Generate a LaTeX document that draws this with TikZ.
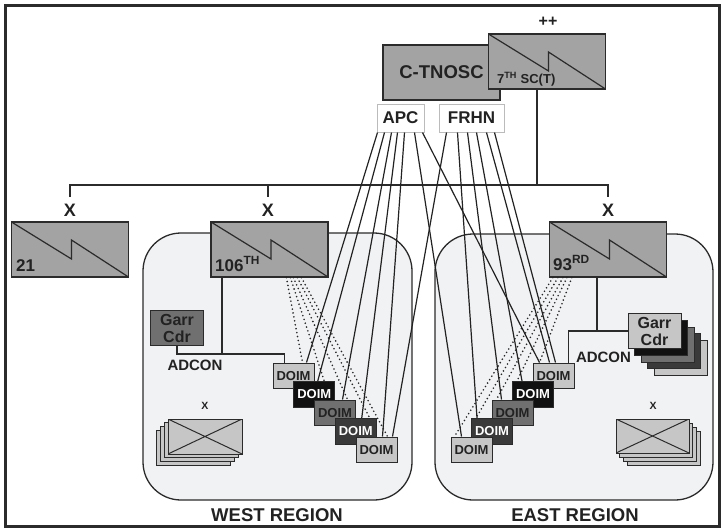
\documentclass[tikz,border=0pt]{standalone}
\usepackage{fontspec}
\setmainfont{Liberation Sans}
\usetikzlibrary{calc}

\definecolor{boxgray}{HTML}{A3A3A3}
\definecolor{regionfill}{HTML}{F1F2F4}
\definecolor{linedk}{HTML}{2B2B2B}
\definecolor{textdk}{HTML}{222222}
\definecolor{tagline}{HTML}{BBBBBB}
\definecolor{doimlt}{HTML}{C6C6C6}
\definecolor{doimbk}{HTML}{111111}
\definecolor{doimmd}{HTML}{707070}
\definecolor{doimdk}{HTML}{3A3A3A}

\def\boxline{1.2pt}
\def\boldsize#1#2{\fontsize{#1}{#2}\selectfont\bfseries}
\tikzstyle{unit}=[draw=linedk, fill=boxgray, line width=\boxline, minimum width=117pt, minimum height=55pt, inner sep=0pt,
  path picture={\draw[linedk, line width=\boxline] (path picture bounding box.north west)
    -- ([shift={(60pt,-37pt)}]path picture bounding box.north west)
    -- ([shift={(60pt,-18pt)}]path picture bounding box.north west)
    -- (path picture bounding box.south east);}]
\tikzstyle{hq}=[draw=linedk, fill=boxgray, line width=\boxline, minimum width=117pt, minimum height=55pt, inner sep=0pt, text=textdk, font=\boldsize{18.5}{20}]
\tikzstyle{tagbox}=[draw=tagline, fill=white, line width=1pt, minimum height=28pt, inner sep=0pt, text=textdk, font=\boldsize{17}{19}]
\tikzstyle{region}=[draw=linedk, fill=regionfill, line width=1.3pt, rounded corners=38pt]
\tikzstyle{doim}=[draw=linedk, line width=1pt, minimum width=41pt, minimum height=25.5pt, inner sep=0pt, font=\boldsize{13}{14}]
\tikzstyle{garr}=[draw=linedk, line width=1pt, minimum width=53pt, minimum height=35pt, inner sep=0pt, align=center, text=textdk, font=\boldsize{16}{17}]
\tikzstyle{xcard}=[draw=linedk, fill=doimlt, line width=1pt, minimum width=74pt, minimum height=35pt, inner sep=0pt]
\tikzstyle{crossed}=[path picture={\draw[linedk, line width=1pt] (path picture bounding box.north west) -- (path picture bounding box.south east)
    (path picture bounding box.north east) -- (path picture bounding box.south west);}]
\tikzstyle{bus}=[draw=linedk, line width=2.5pt]
\tikzstyle{wire}=[draw=linedk, line width=1.2pt]
\tikzstyle{tasking}=[draw=textdk, line width=1.2pt]
\tikzstyle{dotwire}=[draw=black!85, line width=1.8pt, line cap=round, dash pattern=on 0pt off 4pt]
\tikzstyle{unittext}=[text=textdk, inner sep=0pt, font=\boldsize{17}{19}]
\tikzstyle{busx}=[text=textdk, inner sep=0pt, font=\boldsize{18}{20}]
\tikzstyle{adcon}=[text=textdk, inner sep=0pt, font=\boldsize{15}{17}]
\tikzstyle{regiontext}=[text=textdk, inner sep=0pt, font=\boldsize{18.5}{20}]
\tikzstyle{smallx}=[text=textdk, inner sep=0pt, font=\boldsize{10.5}{12}]

\begin{document}
\begin{tikzpicture}[x=1pt, y=-1pt] % y runs downwards
  \useasboundingbox (0,0) rectangle (721,528);
  % frame
  \draw [line width=2.5pt, draw=linedk] (5.5,5.5) rectangle (719.5,526.5);

  % regions
  \node [region, minimum width=269pt, minimum height=267pt] (westreg) at (277.5,366.5) {};
  \node [region, minimum width=278pt, minimum height=266pt] (eastreg) at (574,367) {};
  \node [regiontext] (westlbl) at (277,515) {WEST REGION};
  \node [regiontext] (eastlbl) at (575,515) {EAST REGION};

  % command nodes
  \node [hq] (tnosc) at (441.5,72.5) {C-TNOSC};
  \node [unit] (sc) at (547,61.5) {};
  \node [anchor=base west, inner sep=0pt, text=textdk, font=\boldsize{13}{15}] (sclbl) at (497,83) {7\textsuperscript{TH} SC(T)};
  \node [busx, font=\boldsize{16}{18}] (plus) at (548,21.5) {++};
  \node [tagbox, minimum width=47pt] (apc) at (400.5,118) {APC};
  \node [tagbox, minimum width=65pt] (frhn) at (471.5,118) {FRHN};

  % bus
  \coordinate (feed) at (537,185);
  \foreach \p/\n in {70/21, 268/106, 608/93}
    \node [busx] (x-\n) at (\p,210) {X};
  \draw [bus] ([yshift=6.5pt]x-21.north) |- (feed) -| ([yshift=6.5pt]x-93.north);
  \draw [bus] (x-106.north |- feed) -- ([yshift=6.5pt]x-106.north);
  \draw [bus] (sc.south -| feed) -- (feed);

  % units
  \node [unit] (b21) at (70,249.5) {};
  \node [unit] (b106) at (269.5,249.5) {};
  \node [unit] (b93) at (608,249.5) {};
  \node [unittext, anchor=base west] (t21) at (16,271) {21};
  \node [unittext, anchor=base west] (t106) at (215,271) {106\textsuperscript{TH}};
  \node [unittext, anchor=base west] (t93) at (553,270) {93\textsuperscript{RD}};

  % garrison commanders
  \node [garr, fill=doimmd] (gcw) at (177,328) {Garr\\Cdr};
  \foreach \k/\c in {4/doimlt, 3/doimdk, 2/doimmd, 1/doimbk}
    \node [garr, fill=\c] (gce-\k) at ({654.5+6.5*\k}, {331+6.8*\k}) {};
  \node [garr, fill=doimlt] (gce) at (654.5,331) {Garr\\Cdr};
  \node [adcon] (adconw) at (195,365.5) {ADCON};
  \node [adcon] (adcone) at (603.5,357) {ADCON};

  % installation stacks
  \foreach \k in {3,2,1}
    \node [xcard] (wx-\k) at ({205-3.8*\k}, {436.5+3.9*\k}) {};
  \node [xcard, crossed] (wx) at (205,436.5) {};
  \node [smallx] (wxl) at (205,406) {X};
  \foreach \k in {3,2,1}
    \node [xcard, minimum width=73pt, minimum height=34pt] (ex-\k) at ({652.5+3.7*\k}, {436+4.2*\k}) {};
  \node [xcard, crossed, minimum width=73pt, minimum height=34pt] (ex) at (652.5,436) {};
  \node [smallx] (exl) at (653,406) {X};

  % west DOIM cells
  \foreach \c/\t [count=\i] in {doimlt/textdk, doimbk/white, doimmd/textdk, doimdk/white, doimlt/textdk}
    \node [doim, fill=\c, text=\t] (west-\i) at ({293.5+20.75*(\i-1)}, {375.75+18.5*(\i-1)}) {DOIM};
  % east DOIM cells
  \foreach \c/\t [count=\i] in {doimlt/textdk, doimbk/white, doimmd/textdk, doimdk/white, doimlt/textdk}
    \node [doim, fill=\c, text=\t] (east-\i) at ({553.5-20.5*(\i-1)}, {375.75+18.5*(\i-1)}) {DOIM};

  % ADCON wiring
  \coordinate (adw) at (222,354);
  \draw [wire] (adw |- b106.south) -- (adw);
  \draw [wire] (gcw.south) |- (adw) -| ([xshift=12pt]west-1.north west);
  \coordinate (ade) at (597,331);
  \draw [wire] (ade |- b93.south) -- (ade);
  \draw [wire] (gce.west) -| ([xshift=-6pt]east-1.north east);

  % dotted links from the unit boxes
  \foreach \s/\d/\e in {76/1/30, 80/2/31, 83/3/33.5, 87/4/35, 91/5/32}
    \draw [dotwire] ([xshift=\s pt]b106.south west) -- ([xshift=\e pt]west-\d.north west);
  \foreach \s/\d/\e in {4/5/4, 9/4/5, 14/3/5, 18/2/5, 23/1/7}
    \draw [dotwire] ([xshift=\s pt]b93.south west) -- ([xshift=\e pt]east-\d.north west);

  % APC tasking lines
  \foreach \s/\d/\e in {1/1/34, 8/2/24.5, 15/3/28.5, 21/4/27, 28/5/27}
    \draw [tasking] ([xshift=\s pt]apc.south west) -- ([xshift=\e pt]west-\d.north west);
  \foreach \s/\d/\e in {38/5/11, 46/1/7}
    \draw [tasking] ([xshift=\s pt]apc.south west) -- ([xshift=\e pt]east-\d.north west);
  % FRHN tasking lines
  \draw [tasking] ([xshift=8pt]frhn.south west) -- ([xshift=37pt]west-5.north west);
  \foreach \s/\d/\e in {19/4/6, 29/3/10, 38/2/10, 48/1/17, 56/1/23}
    \draw [tasking] ([xshift=\s pt]frhn.south west) -- ([xshift=\e pt]east-\d.north west);
\end{tikzpicture}
\end{document}
